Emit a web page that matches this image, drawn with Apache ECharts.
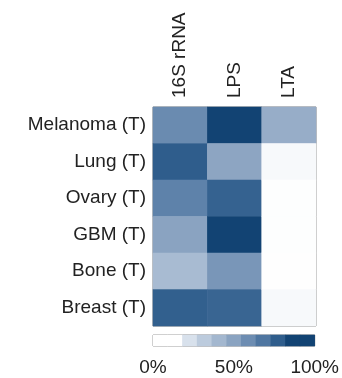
<!DOCTYPE html>
<html><head><meta charset="utf-8">
<script src="https://cdn.jsdelivr.net/npm/echarts@6/dist/echarts.min.js"></script>
<style>html,body{margin:0;padding:0;background:#fff}#c{width:342px;height:378px}</style>
</head><body><div id="c"></div>
<script>
const rows = ['Melanoma (T)', 'Lung (T)', 'Ovary (T)', 'GBM (T)', 'Bone (T)', 'Breast (T)'];
const cols = ['16S rRNA', 'LPS', 'LTA'];
const v16S = [61, 80, 65, 50, 38, 79];
const vLPS = [90, 49, 78, 90, 56, 77];
const vLTA = [45, 12, 10.5, 10.5, 10.3, 12];
const scaleColors = ['#ffffff', '#ffffff', '#d8e1ec', '#bccbdd', '#a3b7cf', '#8aa3c1', '#6d8db2', '#4f76a1', '#2f5d8c', '#124373', '#124373'];
const scaleValues = [0, 10, 20, 30, 40, 50, 60, 70, 80, 90, 100];
const scaleTicks = [0, 50, 100];

const cols3 = [v16S, vLPS, vLTA];
const data = [];
cols3.forEach((arr, ci) => arr.forEach((v, ri) => data.push([ci, ri, v])));
const barData = scaleValues.map((v, i) => [i, 0, v]);
const font = '"Liberation Sans", Arial, sans-serif';
const chart = echarts.init(document.getElementById('c'));
chart.setOption({
  animation: false,
  grid: [
    {left: 153, top: 107, width: 163, height: 219, show: true, borderColor: '#808080', borderWidth: 1, backgroundColor: 'transparent'},
    {left: 153, top: 335, width: 163, height: 11, show: true, borderColor: '#808080', borderWidth: 1}
  ],
  xAxis: [
    {type: 'category', data: cols, gridIndex: 0, position: 'top',
     axisLine: {show: false}, axisTick: {show: false}, splitLine: {show: false},
     axisLabel: {rotate: -90, margin: 9, fontSize: 19, color: '#222', fontFamily: font}},
    {type: 'category', data: scaleValues.map(String), gridIndex: 1,
     axisLine: {show: false}, axisTick: {show: false}, axisLabel: {show: false}},
    {type: 'value', gridIndex: 1, min: 0, max: 100, interval: 50, position: 'bottom',
     axisLine: {show: false}, axisTick: {show: false}, splitLine: {show: false},
     axisLabel: {margin: 12, fontSize: 19, color: '#222', fontFamily: font, formatter: '{value}%'}}
  ],
  yAxis: [
    {type: 'category', data: rows, inverse: true, gridIndex: 0,
     axisLine: {show: false}, axisTick: {show: false}, splitLine: {show: false},
     axisLabel: {margin: 7, fontSize: 19, color: '#222', fontFamily: font}},
    {type: 'category', data: [''], gridIndex: 1,
     axisLine: {show: false}, axisTick: {show: false}, axisLabel: {show: false}}
  ],
  visualMap: [
    {type: 'continuous', show: false, min: 0, max: 100, seriesIndex: 0, inRange: {color: scaleColors}},
    {type: 'continuous', show: false, min: 0, max: 100, seriesIndex: 1, inRange: {color: scaleColors}}
  ],
  series: [
    {type: 'heatmap', xAxisIndex: 0, yAxisIndex: 0, data: data, itemStyle: {borderWidth: 0}},
    {type: 'heatmap', xAxisIndex: 1, yAxisIndex: 1, data: barData, itemStyle: {borderWidth: 0}}
  ]
});
</script></body></html>
